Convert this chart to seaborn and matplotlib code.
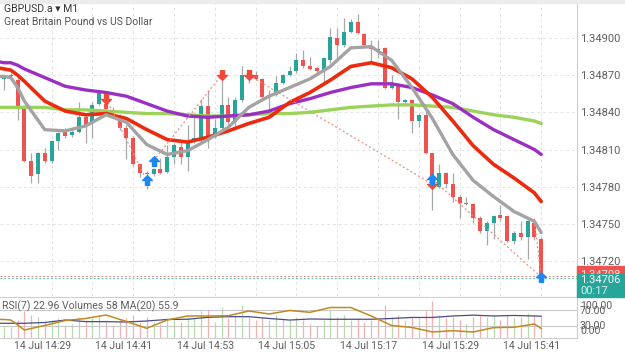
import numpy as np
import pandas as pd
import matplotlib
matplotlib.use("Agg")
import matplotlib.pyplot as plt
from matplotlib.path import Path
from matplotlib.patches import Rectangle
import seaborn as sns

# ---- data (GBPUSD.a, M1) ----
opens = [1.34867, 1.34869, 1.34866, 1.34844, 1.34801, 1.34790, 1.34807, 1.34801, 1.34817, 1.34824,
         1.34822, 1.34824, 1.34836, 1.34831, 1.34847, 1.34847, 1.34842, 1.34836, 1.34827, 1.34819,
         1.34798, 1.34791, 1.34790, 1.34794, 1.34792, 1.34804, 1.34812, 1.34804, 1.34818, 1.34819,
         1.34845, 1.34820, 1.34827, 1.34846, 1.34832, 1.34850, 1.34869, 1.34870, 1.34867, 1.34852,
         1.34854, 1.34864, 1.34870, 1.34873, 1.34882, 1.34877, 1.34876, 1.34873, 1.34882, 1.34900,
         1.34894, 1.34905, 1.34913, 1.34903, 1.34893, 1.34891, 1.34892, 1.34860, 1.34861, 1.34848,
         1.34850, 1.34833, 1.34838, 1.34807, 1.34780, 1.34791, 1.34782, 1.34772, 1.34766, 1.34766,
         1.34755, 1.34744, 1.34751, 1.34757, 1.34756, 1.34736, 1.34743, 1.34739, 1.34751, 1.34738]
highs = [1.34870, 1.34872, 1.34868, 1.34846, 1.34807, 1.34808, 1.34811, 1.34818, 1.34824, 1.34827,
         1.34827, 1.34848, 1.34838, 1.34848, 1.34858, 1.34850, 1.34844, 1.34839, 1.34830, 1.34821,
         1.34798, 1.34793, 1.34795, 1.34803, 1.34814, 1.34815, 1.34816, 1.34830, 1.34839, 1.34851,
         1.34858, 1.34835, 1.34866, 1.34852, 1.34852, 1.34877, 1.34873, 1.34873, 1.34868, 1.34858,
         1.34869, 1.34871, 1.34877, 1.34888, 1.34890, 1.34885, 1.34877, 1.34885, 1.34908, 1.34908,
         1.34916, 1.34915, 1.34919, 1.34904, 1.34898, 1.34898, 1.34893, 1.34870, 1.34864, 1.34851,
         1.34851, 1.34839, 1.34842, 1.34807, 1.34798, 1.34792, 1.34791, 1.34773, 1.34772, 1.34767,
         1.34756, 1.34752, 1.34757, 1.34765, 1.34757, 1.34744, 1.34752, 1.34753, 1.34755, 1.34739]
lows = [1.34858, 1.34866, 1.34834, 1.34800, 1.34783, 1.34783, 1.34799, 1.34799, 1.34810, 1.34819,
        1.34820, 1.34823, 1.34815, 1.34819, 1.34846, 1.34842, 1.34839, 1.34826, 1.34802, 1.34797,
        1.34788, 1.34778, 1.34789, 1.34790, 1.34791, 1.34798, 1.34798, 1.34793, 1.34815, 1.34816,
        1.34811, 1.34819, 1.34824, 1.34830, 1.34828, 1.34848, 1.34864, 1.34866, 1.34850, 1.34838,
        1.34853, 1.34863, 1.34869, 1.34872, 1.34876, 1.34874, 1.34872, 1.34862, 1.34880, 1.34884,
        1.34893, 1.34904, 1.34903, 1.34893, 1.34881, 1.34884, 1.34859, 1.34859, 1.34835, 1.34847,
        1.34823, 1.34828, 1.34806, 1.34761, 1.34779, 1.34779, 1.34768, 1.34755, 1.34765, 1.34751,
        1.34743, 1.34733, 1.34738, 1.34752, 1.34735, 1.34734, 1.34737, 1.34722, 1.34737, 1.34706]
closes = [1.34868, 1.34870, 1.34844, 1.34801, 1.34789, 1.34807, 1.34801, 1.34817, 1.34823, 1.34821,
          1.34824, 1.34836, 1.34829, 1.34846, 1.34856, 1.34843, 1.34841, 1.34827, 1.34819, 1.34798,
          1.34791, 1.34790, 1.34794, 1.34791, 1.34804, 1.34814, 1.34804, 1.34815, 1.34819, 1.34845,
          1.34820, 1.34827, 1.34846, 1.34832, 1.34850, 1.34870, 1.34868, 1.34867, 1.34852, 1.34854,
          1.34864, 1.34870, 1.34873, 1.34882, 1.34877, 1.34875, 1.34873, 1.34884, 1.34901, 1.34894,
          1.34905, 1.34913, 1.34904, 1.34894, 1.34891, 1.34890, 1.34860, 1.34862, 1.34848, 1.34850,
          1.34833, 1.34838, 1.34807, 1.34781, 1.34791, 1.34782, 1.34772, 1.34767, 1.34767, 1.34755,
          1.34744, 1.34751, 1.34756, 1.34755, 1.34736, 1.34743, 1.34739, 1.34752, 1.34739, 1.34708]
volumes = [30, 28, 45, 70, 60, 55, 40, 45, 50, 30,
           35, 55, 45, 50, 60, 40, 30, 45, 50, 60,
           40, 55, 40, 35, 50, 45, 40, 55, 50, 70,
           75, 40, 80, 50, 60, 85, 55, 45, 50, 45,
           60, 50, 45, 55, 45, 35, 30, 45, 75, 55,
           60, 45, 50, 40, 45, 50, 85, 55, 60, 45,
           55, 50, 70, 95, 60, 50, 55, 45, 35, 55,
           60, 55, 60, 45, 60, 50, 55, 65, 60, 58]

# moving averages, sampled along the bars (bar -1 sits just off the left edge)
ma_bars = [-1, 0, 1, 2, 3, 6, 9, 12, 15, 18, 21, 24, 27, 30, 33, 36, 39, 42, 45, 48, 51, 54, 57, 60,
           63, 66, 69, 72, 75, 78, 79]
ma_gray = [1.34869, 1.34869, 1.34868, 1.34860, 1.34849, 1.34826, 1.34825, 1.34829, 1.34838, 1.34832,
           1.34814, 1.34806, 1.34809, 1.34818, 1.34828, 1.34844, 1.34853, 1.34860, 1.34867, 1.34877,
           1.34892, 1.34893, 1.34882, 1.34860, 1.34835, 1.34806, 1.34785, 1.34772, 1.34760, 1.34752, 1.34743]
ma_red = [1.34876, 1.34875, 1.34874, 1.34870, 1.34865, 1.34849, 1.34841, 1.34838, 1.34839, 1.34835,
          1.34826, 1.34818, 1.34816, 1.34820, 1.34825, 1.34831, 1.34836, 1.34848, 1.34856, 1.34866,
          1.34877, 1.34880, 1.34876, 1.34867, 1.34852, 1.34833, 1.34813, 1.34798, 1.34787, 1.34775, 1.34768]
ma_purple = [1.34881, 1.34880, 1.34880, 1.34878, 1.34875, 1.34868, 1.34861, 1.34858, 1.34856, 1.34853,
             1.34847, 1.34841, 1.34837, 1.34836, 1.34837, 1.34838, 1.34841, 1.34847, 1.34851, 1.34856,
             1.34860, 1.34863, 1.34863, 1.34860, 1.34854, 1.34847, 1.34836, 1.34826, 1.34818, 1.34810, 1.34806]
ma_green = [1.34844, 1.34844, 1.34844, 1.34844, 1.34844, 1.34844, 1.34842, 1.34842, 1.34841, 1.34840,
            1.34839, 1.34839, 1.34838, 1.34837, 1.34837, 1.34838, 1.34839, 1.34839, 1.34840, 1.34842,
            1.34844, 1.34845, 1.34846, 1.34846, 1.34845, 1.34844, 1.34841, 1.34838, 1.34836, 1.34833, 1.34831]

# indicator panel
rsi_vals = [46.0, 45.9, 44.6, 31.8, 19.1, 30.6, 43.3, 48.4, 57.3, 40.8, 23.4, 44.6, 54.8, 54.8, 55.5,
            67.5, 59.9, 68.8, 64.2, 76.4, 76.4, 54.8, 30.6, 25.5, 14.0, 17.3, 14.0, 25.2, 26.0, 34.4, 22.96]
vol_ma = [37.7, 37.7, 37.7, 37.7, 37.7, 39.7, 46.0, 42.0, 41.8, 41.0, 43.6, 47.4, 48.0, 53.0, 54.6,
          54.6, 50.0, 46.0, 48.7, 48.0, 48.0, 48.0, 50.0, 52.6, 52.6, 56.4, 58.5, 56.4, 57.7, 56.4, 55.9]

# trades
buy_bars = [21, 22, 63, 79]
buy_prices = [1.34785, 1.34801, 1.34786, 1.34707]
sell_bars = [15, 32, 36, 63]
sell_prices = [1.34851, 1.34870, 1.34870, 1.34782]
trade_from = [(15, 1.34851), (22, 1.34801), (36, 1.34870), (63, 1.34786), (78, 1.34753)]
trade_to = [(21, 1.34785), (32, 1.34870), (63, 1.34782), (79, 1.34707), (79, 1.34707)]

bid, ask = 1.34708, 1.34706
price_ticks = [1.34720, 1.34750, 1.34780, 1.34810, 1.34840, 1.34870, 1.34900]
time_labels = ['14 Jul 14:29', '14 Jul 14:41', '14 Jul 14:53', '14 Jul 15:05',
               '14 Jul 15:17', '14 Jul 15:29', '14 Jul 15:41']

# ---- styling ----
sns.set_theme(style="white")
plt.rcParams['font.family'] = ['Roboto', 'DejaVu Sans']

UP, DOWN = '#26a69a', '#ef5350'
TXT = '#5f5f5f'
GRID = '#e3e3e3'

df = pd.DataFrame({'open': opens, 'high': highs, 'low': lows, 'close': closes, 'volume': volumes})
df['bar'] = np.arange(len(df))
df['up'] = df['close'] >= df['open']

ma = pd.DataFrame({'bar': ma_bars, 'gray': ma_gray, 'red': ma_red,
                   'purple': ma_purple, 'green': ma_green, 'rsi': rsi_vals, 'vol_ma': vol_ma})

fig = plt.figure(figsize=(6.25, 3.52), dpi=100)
fig.patch.set_facecolor('white')
fig.patches.append(Rectangle((0, 1 - 3 / 352), 1, 3 / 352, transform=fig.transFigure,
                             color='#ececec', zorder=0))

ax = fig.add_axes([0, 1 - 296 / 352, 577 / 625, 293 / 352])
ax2 = fig.add_axes([0, 1 - 338 / 352, 577 / 625, 41 / 352])

xlim = (-4 / 6.8, 573 / 6.8)
ax.set_xlim(*xlim)
ax.set_ylim(1.346918, 1.349282)

# grid
for p in price_ticks:
    ax.axhline(p, color=GRID, lw=0.7, ls=(0, (3, 3)), zorder=0)
for b in range(7, 85, 6):
    ax.axvline(b, color=GRID, lw=0.7, ls=(0, (3, 3)), zorder=0)

# candles
ax.vlines(df['bar'], df['low'], df['high'], color='#a8a8a8', lw=0.9, zorder=2)
body = (df['close'] - df['open']).abs().clip(lower=0.000009)
ax.bar(df['bar'], body, bottom=df[['open', 'close']].min(axis=1), width=0.6,
       color=np.where(df['up'], UP, DOWN), zorder=3, linewidth=0)

# moving averages
sns.lineplot(data=ma, x='bar', y='green', ax=ax, color='#9bd35a', lw=2.4, sort=False, zorder=4)
sns.lineplot(data=ma, x='bar', y='purple', ax=ax, color='#9b2fc4', lw=2.4, sort=False, zorder=4)
sns.lineplot(data=ma, x='bar', y='red', ax=ax, color='#eb2a0e', lw=2.6, sort=False, zorder=5)
sns.lineplot(data=ma, x='bar', y='gray', ax=ax, color='#a3a3a3', lw=2.4, sort=False, zorder=5)

# trade lines and arrows
for (b0, p0), (b1, p1) in zip(trade_from, trade_to):
    ax.plot([b0, b1], [p0, p1], color='#f08a7e', lw=0.9, ls=(0, (1.5, 2)), zorder=6)

up_arrow = Path([(0, 1), (1, 0), (0.42, 0), (0.42, -1), (-0.42, -1), (-0.42, 0), (-1, 0), (0, 1)],
                [Path.MOVETO] + [Path.LINETO] * 6 + [Path.CLOSEPOLY])
down_arrow = Path(up_arrow.vertices * np.array([1, -1]), up_arrow.codes)
ax.plot(sell_bars, sell_prices, ls='none', marker=down_arrow, ms=7, color='#ee4b3b', zorder=7)
ax.plot(buy_bars, buy_prices, ls='none', marker=up_arrow, ms=7, color='#1e88f0', zorder=7)

# bid / ask lines
ax.axhline(bid, color='#f08a7e', lw=0.8, ls=(0, (1.5, 2)), zorder=6)
ax.axhline(ask, color='#4fc3b5', lw=0.8, ls=(0, (1.5, 2)), zorder=6)

ax.set_yticks(price_ticks)
ax.set_yticklabels([f'{p:.5f}' for p in price_ticks])
ax.yaxis.tick_right()
ax.tick_params(axis='y', length=0, pad=2, labelsize=8, labelcolor=TXT)
ax.set_xticks([])
ax.set_xlabel('')
ax.set_ylabel('')
for side in ['top', 'bottom', 'left']:
    ax.spines[side].set_visible(False)
ax.spines['right'].set_color('#cfcfcf')
ax.spines['right'].set_linewidth(0.8)

ax.text(0.007, 0.978, 'GBPUSD.a \u25BE M1', transform=ax.transAxes, fontsize=7.6,
        color='#333333', va='center', ha='left')
ax.text(0.007, 0.935, 'Great Britain Pound vs US Dollar', transform=ax.transAxes, fontsize=7.5,
        color='#555555', va='center', ha='left')

# current price labels (ask box sits over the bid box)
fig.patches.append(Rectangle((577 / 625, 1 - 274 / 352), 48 / 625, 8 / 352, transform=fig.transFigure,
                             color='#ef5350', zorder=5))
fig.text(580 / 625, 1 - 274.5 / 352, f'{bid:.5f}', color='#fde6e4', fontsize=8, va='center', zorder=6)
fig.patches.append(Rectangle((577 / 625, 1 - 297 / 352), 48 / 625, 23 / 352, transform=fig.transFigure,
                             color=UP, zorder=7))
fig.text(580 / 625, 1 - 280 / 352, f'{ask:.5f}', color='white', fontsize=8, va='center', zorder=8)
fig.text(580 / 625, 1 - 290.5 / 352, '00:17', color='#d9f2ef', fontsize=8, va='center', zorder=8)

# ---- indicator panel ----
ax2.set_xlim(*xlim)
ax2.set_ylim(-1.3, 103.2)
axv = ax2.twinx()
axv.set_ylim(0, 105)
axv.vlines(df['bar'], 0, df['volume'], colors=np.where(df['up'], '#b8dbae', '#f7b0b0'), lw=0.9)
sns.lineplot(data=ma, x='bar', y='vol_ma', ax=axv, color='#4a4a8c', lw=0.9, sort=False)
axv.axis('off')

ax2.axhline(70, color='#c8c8c8', lw=0.8, zorder=1)
ax2.axhline(30, color='#c8c8c8', lw=0.8, zorder=1)
sns.lineplot(data=ma, x='bar', y='rsi', ax=ax2, color='#c08a1e', lw=1.1, sort=False, zorder=5)
ax2.set_zorder(axv.get_zorder() + 1)
ax2.patch.set_visible(False)

ax2.text(0.004, 0.78, 'RSI(7) 22.96 Volumes 58 MA(20) 55.9', transform=ax2.transAxes,
         fontsize=7.6, color=TXT, va='center', ha='left')
ax2.set_yticks([])
ax2.set_xticks([b + 5.6 for b in range(0, 73, 12)])
ax2.set_xticklabels(time_labels)
ax2.tick_params(axis='x', length=0, pad=2, labelsize=7.6, labelcolor=TXT)
ax2.set_xlabel('')
ax2.set_ylabel('')
for s in ['top', 'bottom', 'right']:
    ax2.spines[s].set_color('#cfcfcf')
    ax2.spines[s].set_linewidth(0.8)
ax2.spines['left'].set_visible(False)
for s in axv.spines.values():
    s.set_visible(False)

for lab, yy in [('100.00', 306), ('70.00', 310.5), ('30.00', 326), ('0.00', 330.5)]:
    fig.text(580 / 625, 1 - yy / 352, lab, fontsize=7.6, color=TXT, va='center', ha='left')

fig.savefig('out.png', dpi=100)
